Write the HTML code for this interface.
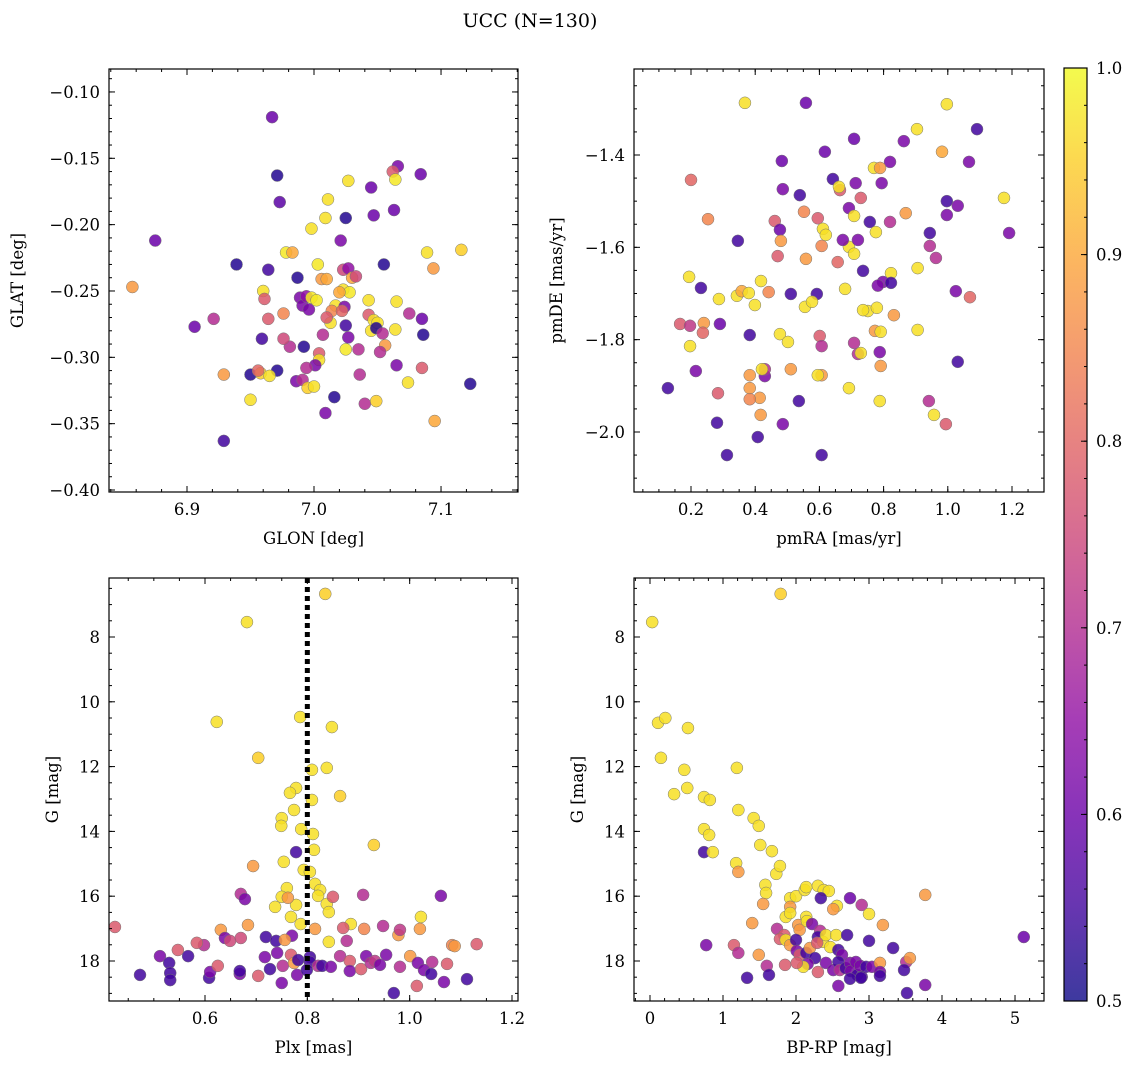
<!DOCTYPE html>
<html><head><meta charset="utf-8"><style>
html,body{margin:0;padding:0;background:#fff;}
svg{display:block;font-family:"DejaVu Serif","Liberation Serif",serif;}
</style></head><body>
<svg id="fig" width="1136" height="1068" viewBox="0 0 1136 1068" xmlns="http://www.w3.org/2000/svg">
<text x="530" y="27" font-size="19" text-anchor="middle">UCC (N=130)</text>
</svg>
<script>
// Panel 1 data (GLON / GLAT)
const glon=[6.967,6.971,6.973,6.875,6.857,6.939,6.964,6.906,6.921,6.929,6.950,6.929,6.950,6.958,6.960,6.961,6.959,6.978,6.983,6.987,6.989,6.991,6.994,6.996,6.998,7.002,6.998,7.003,7.006,7.010,7.009,7.011,7.025,7.021,7.027,7.045,7.066,7.062,7.064,7.063,7.047,7.084,7.055,7.089,7.094,7.116,7.065,7.043,7.023,7.027,7.030,7.033,7.023,7.028,7.020,7.017,7.014,7.013,7.010,7.007,7.024,7.022,7.025,7.043,7.045,7.047,7.050,7.049,7.054,7.056,7.052,7.035,7.025,7.027,7.004,7.004,7.001,6.992,6.994,6.986,6.991,6.995,7.000,6.981,6.976,6.971,6.965,6.956,6.976,6.964,7.009,7.016,7.040,7.049,7.036,7.065,7.074,7.085,7.086,7.085,7.075,7.064,7.095,7.123];
const glat=[-0.119,-0.163,-0.183,-0.212,-0.247,-0.230,-0.234,-0.277,-0.271,-0.313,-0.313,-0.363,-0.332,-0.312,-0.250,-0.256,-0.286,-0.221,-0.221,-0.240,-0.255,-0.261,-0.254,-0.264,-0.255,-0.257,-0.203,-0.230,-0.241,-0.241,-0.195,-0.181,-0.195,-0.212,-0.167,-0.172,-0.156,-0.160,-0.166,-0.189,-0.193,-0.162,-0.230,-0.221,-0.233,-0.219,-0.258,-0.257,-0.234,-0.233,-0.240,-0.239,-0.249,-0.251,-0.251,-0.261,-0.265,-0.274,-0.270,-0.283,-0.262,-0.265,-0.276,-0.268,-0.280,-0.272,-0.274,-0.278,-0.282,-0.291,-0.296,-0.294,-0.294,-0.285,-0.297,-0.302,-0.306,-0.292,-0.308,-0.318,-0.317,-0.323,-0.322,-0.292,-0.286,-0.310,-0.314,-0.310,-0.267,-0.271,-0.342,-0.330,-0.335,-0.333,-0.313,-0.306,-0.319,-0.308,-0.283,-0.271,-0.267,-0.279,-0.348,-0.320];
const prob1=[.6,.52,.58,.6,.88,.52,.55,.6,.7,.88,.52,.55,.97,.95,.97,.78,.55,.98,.9,.52,.62,.62,.65,.62,.98,.98,.97,.98,.88,.9,.97,.97,.52,.62,.97,.6,.62,.78,.98,.6,.6,.6,.52,.97,.88,.95,.97,.97,.75,.65,.9,.75,.97,.98,.9,.97,.85,.97,.78,.7,.62,.8,.55,.78,.97,.97,.97,.52,.7,.88,.7,.7,.98,.62,.78,.97,.62,.52,.7,.62,.7,.95,.97,.7,.75,.52,.97,.8,.85,.78,.62,.52,.7,.95,.7,.62,.97,.78,.52,.6,.7,.97,.9,.52];
// Panel 2 data (pmRA / pmDE)
const pmra=[0.368,0.558,0.997,1.091,0.904,0.863,0.708,0.982,0.617,1.066,0.820,0.770,0.789,0.483,0.200,0.642,0.664,0.661,0.713,0.794,0.486,0.729,0.539,0.997,1.175,0.997,1.031,0.552,0.692,0.708,0.757,0.869,0.944,1.191,0.820,0.253,0.461,0.595,0.611,0.620,0.607,0.346,0.477,0.480,0.470,0.558,0.657,0.692,0.708,0.673,0.720,0.776,0.944,0.963,0.736,0.823,0.798,0.823,0.782,0.680,0.906,1.025,1.069,0.194,0.231,0.287,0.343,0.358,0.380,0.399,0.418,0.442,0.511,0.592,0.555,0.577,0.290,0.166,0.197,0.240,0.237,0.197,0.215,0.383,0.477,0.502,0.601,0.607,0.607,0.595,0.430,0.383,0.430,0.511,0.421,0.708,0.720,0.729,0.751,0.736,0.773,0.791,0.788,0.791,0.832,0.779,0.906,0.692,0.788,0.536,0.414,0.383,0.383,0.128,0.284,0.417,0.408,0.281,0.486,0.312,0.607,0.941,0.957,0.994,1.031];
const pmde=[-1.287,-1.287,-1.290,-1.344,-1.344,-1.370,-1.365,-1.393,-1.393,-1.415,-1.415,-1.428,-1.428,-1.413,-1.454,-1.452,-1.476,-1.469,-1.461,-1.461,-1.474,-1.493,-1.487,-1.500,-1.493,-1.530,-1.510,-1.523,-1.515,-1.532,-1.545,-1.526,-1.569,-1.569,-1.545,-1.539,-1.543,-1.537,-1.560,-1.573,-1.597,-1.586,-1.562,-1.586,-1.619,-1.625,-1.632,-1.599,-1.614,-1.584,-1.584,-1.567,-1.597,-1.623,-1.651,-1.656,-1.675,-1.677,-1.683,-1.690,-1.645,-1.695,-1.708,-1.664,-1.688,-1.712,-1.705,-1.695,-1.699,-1.725,-1.673,-1.697,-1.701,-1.701,-1.729,-1.718,-1.766,-1.766,-1.770,-1.764,-1.785,-1.814,-1.868,-1.790,-1.788,-1.805,-1.792,-1.814,-1.877,-1.877,-1.879,-1.877,-1.864,-1.864,-1.864,-1.807,-1.831,-1.829,-1.738,-1.736,-1.781,-1.783,-1.827,-1.857,-1.747,-1.731,-1.779,-1.905,-1.933,-1.933,-1.926,-1.905,-1.929,-1.905,-1.916,-1.963,-2.011,-1.980,-1.983,-2.050,-2.050,-1.933,-1.963,-1.983,-1.848];
const prob2=[.97,.6,.97,.55,.97,.62,.6,.9,.6,.62,.62,.97,.88,.6,.8,.55,.78,.97,.62,.62,.62,.78,.55,.55,.97,.62,.62,.85,.62,.97,.55,.88,.55,.62,.7,.85,.78,.78,.97,.97,.85,.55,.6,.88,.78,.88,.8,.97,.97,.62,.62,.97,.7,.7,.55,.97,.62,.55,.62,.97,.97,.62,.8,.97,.55,.97,.97,.9,.97,.97,.97,.85,.55,.55,.97,.97,.6,.78,.72,.88,.8,.97,.62,.55,.97,.97,.78,.7,.88,.97,.62,.88,.7,.88,.97,.7,.7,.97,.97,.97,.88,.97,.62,.88,.88,.97,.97,.97,.97,.55,.88,.88,.85,.55,.78,.88,.55,.55,.62,.55,.55,.7,.97,.78,.55];
// Panel 3 data (Plx / G)
const plx=[0.835,0.682,0.623,0.704,0.786,0.848,0.809,0.838,0.778,0.766,0.864,0.809,0.774,0.750,0.749,0.788,0.811,0.778,0.813,0.930,0.754,0.694,0.793,0.805,0.815,0.825,0.760,0.778,0.838,0.821,0.850,0.670,0.678,0.909,1.061,0.737,0.750,0.762,0.768,0.787,0.842,0.885,0.684,0.631,0.424,0.770,0.815,0.870,0.911,0.948,0.978,1.020,1.022,0.981,0.842,0.877,0.639,0.649,0.670,0.719,0.739,0.756,0.598,0.584,0.547,0.512,0.567,0.530,0.473,0.532,0.532,0.608,0.610,0.625,0.668,0.668,0.704,0.717,0.727,0.741,0.752,0.750,0.768,0.774,0.780,0.782,0.805,0.805,0.799,0.821,0.829,0.846,0.864,0.883,0.883,0.905,0.915,0.924,0.932,0.942,0.954,0.981,1.001,1.016,1.028,1.042,1.044,1.073,1.083,1.088,1.112,1.067,1.131,0.969,1.014];
const gmag3=[6.67,7.54,10.62,11.73,10.47,10.78,12.10,12.04,12.66,12.81,12.91,13.03,13.34,13.59,13.83,13.93,14.08,14.64,14.57,14.42,14.94,15.07,15.19,15.25,15.62,15.81,15.75,16.27,16.24,15.99,16.02,15.93,16.09,15.96,15.99,16.33,16.02,16.05,16.64,16.86,16.49,16.86,16.89,17.04,16.95,17.22,17.01,16.98,17.01,16.92,17.20,17.01,16.64,17.04,17.41,17.38,17.29,17.38,17.29,17.26,17.38,17.35,17.51,17.44,17.66,17.85,17.85,18.06,18.43,18.37,18.59,18.52,18.34,18.15,18.40,18.31,18.46,17.88,18.25,17.75,18.15,18.68,17.81,18.06,18.43,17.97,17.88,18.03,18.28,18.15,18.15,18.18,17.85,18.00,18.31,18.25,17.85,18.06,18.00,18.12,17.81,18.18,17.85,18.06,18.28,18.40,18.03,18.09,17.51,17.54,18.56,18.65,17.48,18.99,18.77];
const prob3=[.95,.97,.97,.95,.97,.97,.97,.97,.97,.97,.95,.97,.97,.97,.97,.97,.97,.55,.97,.95,.97,.88,.97,.97,.97,.97,.97,.97,.97,.97,.78,.7,.62,.7,.62,.97,.97,.88,.97,.97,.97,.97,.88,.88,.78,.62,.88,.78,.85,.7,.88,.88,.97,.72,.97,.7,.62,.75,.75,.55,.55,.88,.7,.78,.78,.62,.55,.55,.55,.55,.55,.55,.62,.78,.62,.55,.78,.62,.55,.62,.7,.62,.78,.88,.62,.55,.55,.55,.55,.7,.55,.62,.7,.78,.62,.78,.62,.7,.72,.62,.62,.7,.88,.62,.62,.55,.7,.78,.85,.88,.55,.62,.78,.55,.78];
// Panel 4 data (BP-RP / G)
const bprp=[0.03,1.79,0.11,0.21,0.52,0.15,0.47,0.51,0.33,0.74,0.82,1.21,1.42,0.74,0.81,0.74,0.86,1.49,1.19,1.51,1.67,1.18,1.21,1.73,1.78,1.58,1.59,1.55,1.92,2.00,2.12,2.14,2.30,2.38,2.45,2.34,2.56,2.51,2.74,2.90,3.77,1.40,1.86,1.92,1.92,2.03,2.05,2.14,2.15,2.22,2.33,2.30,2.37,2.41,2.55,2.70,3.00,3.19,3.00,1.74,1.84,1.78,1.86,1.92,2.00,2.01,2.05,2.14,2.19,2.29,2.47,2.58,2.63,2.26,2.16,2.10,2.01,1.85,1.60,1.63,1.49,1.33,1.15,1.21,0.77,2.30,2.41,2.51,2.58,2.60,2.68,2.74,2.75,2.82,2.84,2.88,2.96,2.90,3.04,3.15,3.15,3.15,2.58,2.74,2.89,3.33,3.51,3.48,3.56,3.77,3.52,5.12];
const gmag4=[7.54,6.67,10.65,10.50,10.81,11.73,12.10,12.66,12.85,12.94,13.03,13.34,13.59,13.93,14.11,14.64,14.64,13.83,12.04,14.42,14.61,14.98,15.25,15.31,15.07,15.65,15.90,16.24,16.06,16.00,15.81,15.72,15.68,15.81,15.84,16.06,16.30,16.40,16.06,16.27,15.96,16.83,16.64,16.33,16.52,16.89,17.04,16.64,16.77,16.86,17.07,17.26,17.41,17.20,17.20,17.20,16.55,16.89,17.38,17.01,17.20,17.32,17.35,17.51,17.35,17.69,17.81,17.75,17.60,17.44,17.57,17.66,17.81,17.91,18.09,18.18,18.06,18.12,18.15,18.43,17.81,18.52,17.51,17.75,17.51,18.34,18.06,18.28,18.03,18.28,18.22,18.06,18.31,18.03,18.43,18.15,18.18,18.49,18.18,18.06,18.34,18.46,18.77,18.55,18.52,17.60,18.03,18.28,17.91,18.74,18.99,17.26];
const prob4=[.97,.95,.97,.97,.97,.97,.97,.97,.97,.97,.97,.97,.97,.97,.97,.55,.97,.97,.97,.97,.97,.97,.88,.97,.97,.97,.97,.88,.97,.97,.97,.97,.97,.97,.97,.55,.97,.88,.6,.7,.88,.88,.97,.88,.97,.88,.88,.97,.97,.62,.7,.55,.97,.97,.97,.55,.97,.88,.55,.7,.78,.78,.97,.88,.55,.62,.78,.55,.88,.78,.97,.55,.62,.55,.62,.97,.78,.78,.7,.55,.88,.55,.78,.7,.62,.78,.62,.62,.55,.7,.55,.62,.62,.62,.55,.62,.55,.55,.62,.88,.62,.55,.62,.55,.55,.55,.7,.55,.88,.62,.55,.6];
// Tick labels
const p1xTicks=[6.9,7.0,7.1];
const p1yTicks=[-0.10,-0.15,-0.20,-0.25,-0.30,-0.35,-0.40];
const p2xTicks=[0.2,0.4,0.6,0.8,1.0,1.2];
const p2yTicks=[-1.4,-1.6,-1.8,-2.0];
const p3xTicks=[0.6,0.8,1.0,1.2];
const gTicks=[8,10,12,14,16,18];
const p4xTicks=[0,1,2,3,4,5];
const cbTicks=[0.5,0.6,0.7,0.8,0.9,1.0];
const plxRef=0.8;

const NS='http://www.w3.org/2000/svg';
const svg=document.getElementById('fig');
function mk(tag,attrs,parent){const e=document.createElementNS(NS,tag);for(const k in attrs)e.setAttribute(k,attrs[k]);(parent||svg).appendChild(e);return e;}
const stops=['#0d0887','#41049d','#6a00a8','#8f0da4','#b12a90','#cc4778','#e16462','#f2844b','#fca636','#fcce25','#f0f921'];
function hex(h){return [parseInt(h.slice(1,3),16),parseInt(h.slice(3,5),16),parseInt(h.slice(5,7),16)];}
function plasma(t){t=Math.max(0,Math.min(1,t));const f=t*10,i=Math.min(9,Math.floor(f)),r=f-i;const a=hex(stops[i]),b=hex(stops[i+1]);return 'rgb('+a.map((v,k)=>Math.round(v+(b[k]-v)*r)).join(',')+')';}
function cmap(p){return plasma((p-0.5)/0.5);}
function fmt(v,d){let s=v.toFixed(d);return s.replace('-','\u2212');}
const FS=16.5;

function panel(o){
  const g=mk('g',{});
  
  
  const sx=v=>o.x0+(v-o.xmin)/(o.xmax-o.xmin)*(o.x1-o.x0);
  const sy=v=>o.yinv? o.y0+(v-o.ymin)/(o.ymax-o.ymin)*(o.y1-o.y0) : o.y1-(v-o.ymin)/(o.ymax-o.ymin)*(o.y1-o.y0);
  const clipId='clip-'+o.name;
  const cp=mk('clipPath',{id:clipId},g);
  mk('rect',{x:o.x0,y:o.y0,width:o.x1-o.x0,height:o.y1-o.y0},cp);
  const pts=mk('g',{'clip-path':'url(#'+clipId+')'},g);
  
  
  for(let i=0;i<o.xs.length;i++){
    const c=mk('circle',{cx:sx(o.xs[i]),cy:sy(o.ys[i]),r:6,fill:cmap(o.cs[i]),'fill-opacity':0.85,stroke:'#777','stroke-width':0.5},pts);
    
    
  }
  if(o.vline!==undefined){
    const l=mk('line',{x1:sx(o.vline),x2:sx(o.vline),y1:o.y0,y2:o.y1,stroke:'#000','stroke-width':5,'stroke-dasharray':'5,4'},g);
    
    
  }
  mk('rect',{x:o.x0,y:o.y0,width:o.x1-o.x0,height:o.y1-o.y0,fill:'none',stroke:'#000','stroke-width':1.2},g);
  const xm=o.xminor, ym=o.yminor;
  for(let v=Math.ceil(o.xmin/xm)*xm; v<=o.xmax; v+=xm){const X=sx(v);mk('line',{x1:X,x2:X,y1:o.y1,y2:o.y1-3,stroke:'#000'},g);mk('line',{x1:X,x2:X,y1:o.y0,y2:o.y0+3,stroke:'#000'},g);}
  const ylo=Math.min(o.ymin,o.ymax), yhi=Math.max(o.ymin,o.ymax);
  for(let v=Math.ceil(ylo/ym)*ym; v<=yhi; v+=ym){const Y=sy(v);mk('line',{x1:o.x0,x2:o.x0+3,y1:Y,y2:Y,stroke:'#000'},g);mk('line',{x1:o.x1,x2:o.x1-3,y1:Y,y2:Y,stroke:'#000'},g);}
  o.xt.forEach(v=>{const X=sx(v);mk('line',{x1:X,x2:X,y1:o.y1,y2:o.y1-6,stroke:'#000'},g);mk('line',{x1:X,x2:X,y1:o.y0,y2:o.y0+6,stroke:'#000'},g);
    const t=mk('text',{x:X,y:o.y1+23,'font-size':FS,'text-anchor':'middle'},g);t.textContent=fmt(v,o.xd);
    });
  o.yt.forEach(v=>{const Y=sy(v);mk('line',{x1:o.x0,x2:o.x0+6,y1:Y,y2:Y,stroke:'#000'},g);mk('line',{x1:o.x1,x2:o.x1-6,y1:Y,y2:Y,stroke:'#000'},g);
    const t=mk('text',{x:o.x0-9,y:Y+6,'font-size':FS,'text-anchor':'end'},g);t.textContent=fmt(v,o.yd);
    });
  const xl=mk('text',{x:(o.x0+o.x1)/2,y:o.y1+52,'font-size':FS,'text-anchor':'middle'},g);xl.textContent=o.xlab;
  
  const yx=o.ylx, yy=(o.y0+o.y1)/2;
  const yl=mk('text',{x:yx,y:yy,'font-size':FS,'text-anchor':'middle',transform:'rotate(-90 '+yx+' '+yy+')'},g);yl.textContent=o.ylab;
  
}
panel({name:'glon-glat-panel',x0:109,x1:518,y0:69,y1:492,xmin:6.8386,xmax:7.1606,ymin:-0.4015,ymax:-0.0827,xs:glon,ys:glat,cs:prob1,xt:p1xTicks,yt:p1yTicks,xd:1,yd:2,xminor:0.02,yminor:0.01,xlab:'GLON [deg]',ylab:'GLAT [deg]',ylx:23});
panel({name:'proper-motion-panel',x0:634,x1:1044,y0:69,y1:492,xmin:0.0224,xmax:1.2997,ymin:-2.130,ymax:-1.2137,xs:pmra,ys:pmde,cs:prob2,xt:p2xTicks,yt:p2yTicks,xd:1,yd:1,xminor:0.05,yminor:0.05,xlab:'pmRA [mas/yr]',ylab:'pmDE [mas/yr]',ylx:562});
panel({name:'parallax-panel',x0:109,x1:518,y0:578,y1:1001,xmin:0.4124,xmax:1.2117,ymin:6.179,ymax:19.235,yinv:true,xs:plx,ys:gmag3,cs:prob3,xt:p3xTicks,yt:gTicks,xd:1,yd:0,xminor:0.05,yminor:0.5,xlab:'Plx [mas]',ylab:'G [mag]',ylx:58,vline:plxRef});
panel({name:'cmd-panel',x0:634,x1:1044,y0:578,y1:1001,xmin:-0.219,xmax:5.397,ymin:6.179,ymax:19.235,yinv:true,xs:bprp,ys:gmag4,cs:prob4,xt:p4xTicks,yt:gTicks,xd:0,yd:0,xminor:0.2,yminor:0.5,xlab:'BP-RP [mag]',ylab:'G [mag]',ylx:583});

(function(){
  const g=mk('g',{});
  
  
  const defs=mk('defs',{},g);
  const lg=mk('linearGradient',{id:'cbg',x1:0,y1:1,x2:0,y2:0},defs);
  for(let i=0;i<=20;i++){mk('stop',{offset:(i/20),'stop-color':plasma(i/20)},lg);}
  const X0=1064,X1=1087,Y0=68,Y1=1001;
  mk('rect',{x:X0,y:Y0,width:X1-X0,height:Y1-Y0,fill:'url(#cbg)','fill-opacity':0.8},g);
  mk('rect',{x:X0,y:Y0,width:X1-X0,height:Y1-Y0,fill:'none',stroke:'#000','stroke-width':1.2},g);
  const sy=v=>Y1-(v-0.5)/0.5*(Y1-Y0);
  for(let k=0;k<=25;k++){const v=0.5+k*0.02;const Y=sy(v);mk('line',{x1:X1,x2:X1-3,y1:Y,y2:Y,stroke:'#000'},g);}
  cbTicks.forEach(v=>{const Y=sy(v);mk('line',{x1:X1,x2:X1-6,y1:Y,y2:Y,stroke:'#000'},g);
    const t=mk('text',{x:X1+9,y:Y+6,'font-size':FS},g);t.textContent=v.toFixed(1);
    });
})();
</script>
</body></html>
